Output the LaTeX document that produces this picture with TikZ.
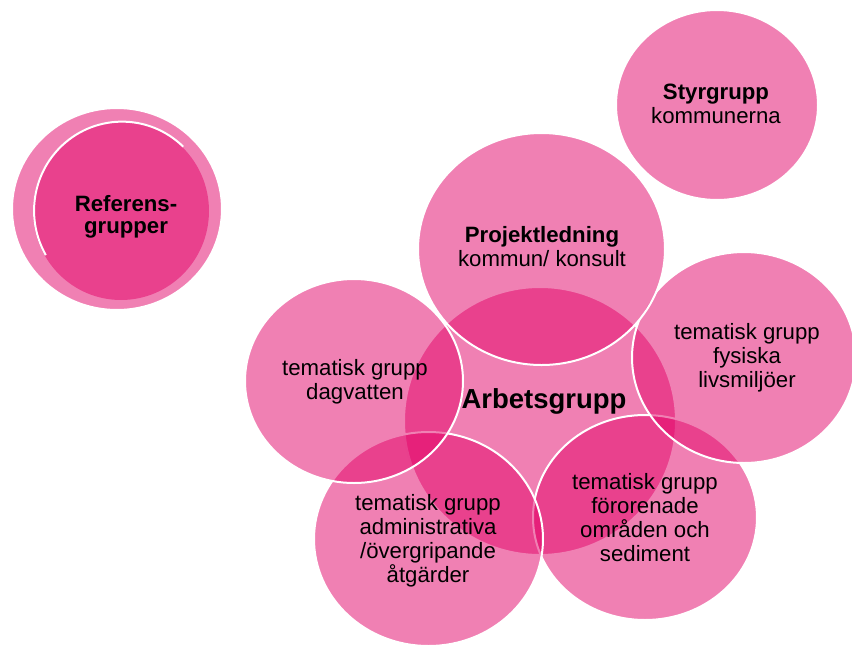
\documentclass[tikz,border=0pt]{standalone}
\usepackage{fontspec}
\setmainfont{Liberation Sans}
\usetikzlibrary{shapes.geometric}
\definecolor{pk}{RGB}{226,2,104}
\begin{document}
\begin{tikzpicture}[x=1pt,y=-1pt,
  blob/.style={ellipse,inner sep=0pt,fill=pk,fill opacity=0.5,draw=white,draw opacity=1,line width=2pt},
  lbl/.style={text=black,align=center,inner sep=0pt,font=\fontsize{22.2}{24}\selectfont},
  big/.style={text=black,align=center,inner sep=0pt,font=\fontsize{27.5}{30}\selectfont\bfseries}]
\useasboundingbox (0,0) rectangle (852,646);
% Referensgrupper
\node[blob,minimum width=210pt,minimum height=202pt] (refb) at (117,209) {};
\node[blob,draw=none,minimum width=176pt,minimum height=178pt] (reff) at (121,211) {};
\draw[white,line width=2pt] (reff.46) arc[start angle=46,end angle=210,x radius=88pt,y radius=89pt];
% Styrgrupp
\node[blob,minimum width=202pt,minimum height=190pt] (styr) at (717,105) {};
% Cluster
\node[blob,minimum width=272pt,minimum height=268pt] (arb) at (540,421) {};
\node[blob,minimum width=224pt,minimum height=205pt] (for) at (645,517.5) {};
\node[blob,minimum width=224pt,minimum height=211pt] (fys) at (744,357.5) {};
\node[blob,minimum width=247pt,minimum height=232pt] (proj) at (541.5,249) {};
\node[blob,minimum width=229pt,minimum height=214pt] (adm) at (428.5,539) {};
\node[blob,minimum width=218pt,minimum height=204pt] (dag) at (354,381) {};
% Labels
\node[lbl,font=\fontsize{22.2}{22.5}\selectfont\bfseries] (tref) at (126,217) {Referens-\\grupper};
\node[lbl] (tstyr) at (716,104) {\textbf{Styrgrupp}\\kommunerna};
\node[lbl] (tproj) at (542,247) {\textbf{Projektledning}\\kommun/ konsult};
\node[big] (tarb) at (544,401) {Arbetsgrupp};
\node[lbl] (tdag) at (355,382) {tematisk grupp\\dagvatten};
\node[lbl] (tfys) at (747,358) {tematisk grupp\\fysiska\\livsmiljöer};
\node[lbl] (tfor) at (645,518) {tematisk grupp\\förorenade\\områden och\\sediment};
\node[lbl] (tadm) at (428,541) {tematisk grupp\\administrativa\\/övergripande\\åtgärder};
\end{tikzpicture}
\end{document}
